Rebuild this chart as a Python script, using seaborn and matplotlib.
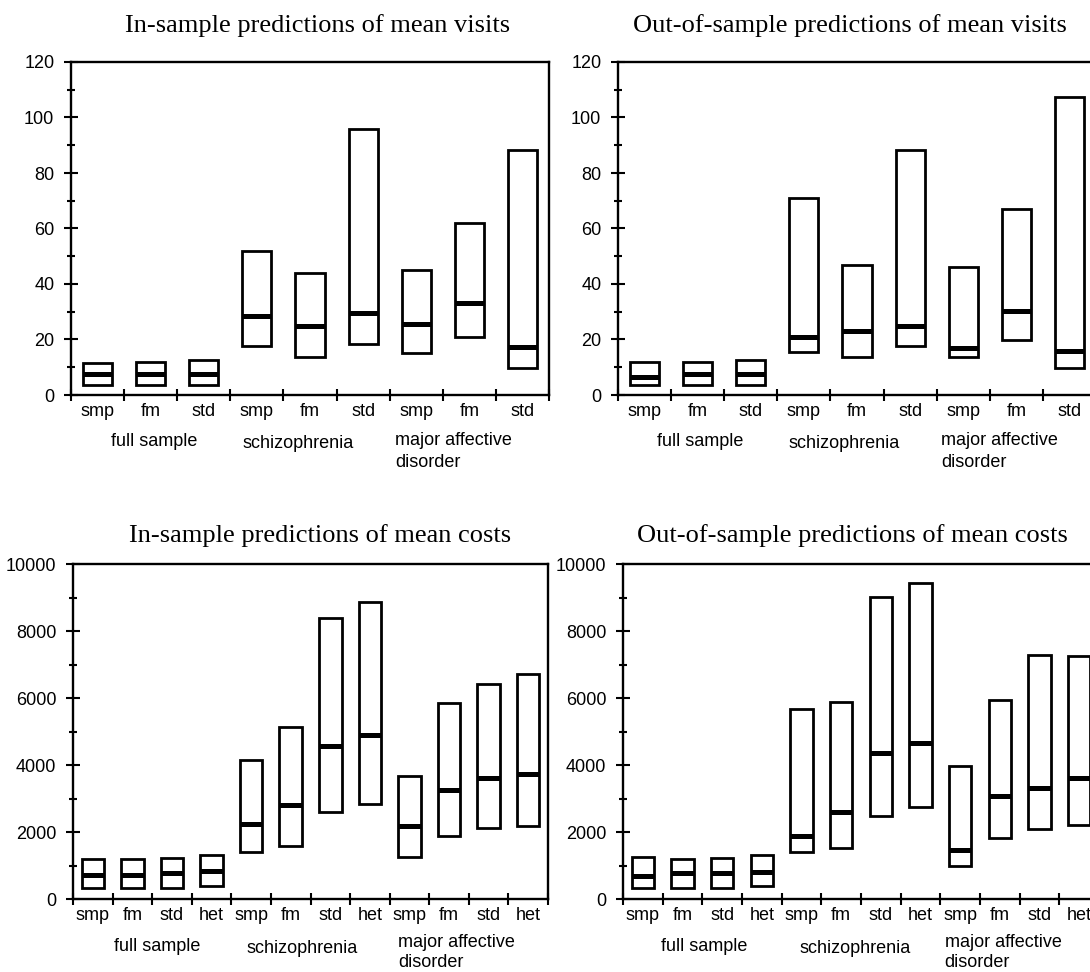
import numpy as np
import pandas as pd
import matplotlib
matplotlib.use("Agg")
import matplotlib.pyplot as plt
import seaborn as sns

# ---------------------------------------------------------------- data
visit_models = ["smp", "fm", "std"]
cost_models = ["smp", "fm", "std", "het"]
groups = ["full sample", "schizophrenia", "major affective\ndisorder"]

# mean visits: lower bound, median, upper bound per group x model
vis_in_low = [3.6, 3.6, 3.6, 17.8, 13.8, 18.4, 15.0, 21.0, 9.6]
vis_in_med = [7.6, 7.6, 7.6, 28.5, 24.9, 29.7, 25.6, 33.3, 17.4]
vis_in_high = [11.7, 12.0, 12.6, 52.0, 43.9, 95.9, 44.9, 62.0, 88.4]

vis_out_low = [3.6, 3.6, 3.6, 15.6, 13.8, 17.8, 13.8, 19.9, 9.6]
vis_out_med = [6.6, 7.6, 7.6, 20.8, 22.9, 24.9, 16.8, 30.4, 16.0]
vis_out_high = [12.0, 12.0, 12.6, 71.0, 46.9, 88.4, 46.3, 67.0, 107.5]

# mean costs: lower bound, median, upper bound per group x model
cost_in_low = [330, 330, 330, 400, 1410, 1590, 2610, 2840, 1250, 1890, 2110, 2170]
cost_in_med = [730, 730, 775, 825, 2250, 2810, 4570, 4900, 2190, 3240, 3610, 3740]
cost_in_high = [1190, 1200, 1220, 1320, 4140, 5130, 8380, 8880, 3680, 5850, 6420, 6710]

cost_out_low = [330, 330, 330, 380, 1410, 1530, 2490, 2760, 1000, 1820, 2090, 2200]
cost_out_med = [680, 775, 775, 805, 1890, 2610, 4370, 4670, 1450, 3080, 3310, 3610]
cost_out_high = [1250, 1200, 1220, 1320, 5670, 5870, 9010, 9420, 3980, 5940, 7270, 7240]

titles = [
    "In-sample predictions of mean visits",
    "Out-of-sample predictions of mean visits",
    "In-sample predictions of mean costs",
    "Out-of-sample predictions of mean costs",
]

# ---------------------------------------------------------------- style
sns.set_theme(style="ticks")
plt.rcParams["font.family"] = ["Liberation Sans", "DejaVu Sans"]
plt.rcParams.update({
    "axes.edgecolor": "black",
    "axes.linewidth": 1.7,
    "xtick.color": "black",
    "ytick.color": "black",
    "text.color": "black",
    "axes.facecolor": "white",
    "figure.facecolor": "white",
})

W, H = 1090, 972
fig = plt.figure(figsize=(W / 100, H / 100), dpi=100)

SANS = 13
SERIF = ["Liberation Serif", "DejaVu Serif"]


def px_axes(left, right, top, bottom):
    return fig.add_axes([left / W, 1 - bottom / H, (right - left) / W, (bottom - top) / H])


def draw_panel(ax, models, low, med, high, ymax, ystep, box_w, label_x, spacing):
    n = len(low)
    slots = np.arange(n)
    span = np.asarray(high) - np.asarray(low)
    df = pd.DataFrame({"slot": slots, "span": span})

    # interval boxes: bar from the lower to the upper bound
    sns.barplot(data=df, x="slot", y="span", order=list(slots), bottom=low,
                width=box_w, color="white", edgecolor="black", linewidth=2.0,
                errorbar=None, ax=ax)
    # median marks
    ax.hlines(med, slots - box_w / 2, slots + box_w / 2, color="black",
              linewidth=3.6, zorder=3)

    ax.set_xlim(-0.5, n - 0.5)
    ax.set_ylim(0, ymax)
    ax.set_xlabel("")
    ax.set_ylabel("")

    # slot separators as ticks, model names centred in the slots
    ax.set_xticks(np.arange(n + 1) - 0.5)
    ax.set_xticklabels([])
    ax.set_xticks(slots, minor=True)
    ax.set_xticklabels(models * 3, minor=True, fontsize=SANS)
    ax.tick_params(axis="x", which="major", direction="inout", length=8, width=1.5)
    ax.tick_params(axis="x", which="minor", length=0, pad=6)

    ax.set_yticks(np.arange(0, ymax + 1, ystep))
    ax.set_yticks(np.arange(0, ymax + 1, ystep // 2), minor=True)
    ax.tick_params(axis="y", which="major", direction="inout", length=10,
                   width=1.5, pad=7, labelsize=SANS)
    ax.tick_params(axis="y", which="minor", direction="inout", length=6, width=1.5)

    for s in ax.spines.values():
        s.set_visible(True)
        s.set_linewidth(1.7)
        s.set_color("black")

    # group names under the model names
    (x0, d0), (x1, d1), (x2, d2) = label_x
    ax.annotate(groups[0], xy=(x0, 0), xycoords=("data", "axes fraction"),
                xytext=(0, -d0), textcoords="offset pixels",
                ha="center", va="baseline", fontsize=SANS)
    ax.annotate(groups[1], xy=(x1, 0), xycoords=("data", "axes fraction"),
                xytext=(0, -d1), textcoords="offset pixels",
                ha="center", va="baseline", fontsize=SANS)
    ax.annotate(groups[2], xy=(x2, 0), xycoords=("data", "axes fraction"),
                xytext=(0, -d2), textcoords="offset pixels",
                ha="left", va="top", multialignment="left",
                linespacing=spacing, fontsize=SANS)


ax1 = px_axes(71, 549, 62, 395)
ax2 = px_axes(618, 1096, 62, 395)
ax3 = px_axes(73, 548, 564, 899)
ax4 = px_axes(623, 1099, 564, 899)

draw_panel(ax1, visit_models, vis_in_low, vis_in_med, vis_in_high, 120, 20, 0.55,
           [(1.06, 51), (3.78, 53), (5.6, 37)], 1.35)
draw_panel(ax2, visit_models, vis_out_low, vis_out_med, vis_out_high, 120, 20, 0.55,
           [(1.05, 51), (3.76, 53), (5.58, 37)], 1.35)
draw_panel(ax3, cost_models, cost_in_low, cost_in_med, cost_in_high, 10000, 2000, 0.57,
           [(1.63, 52), (5.28, 54), (7.71, 35)], 1.2)
draw_panel(ax4, cost_models, cost_out_low, cost_out_med, cost_out_high, 10000, 2000, 0.57,
           [(1.54, 52), (5.35, 54), (7.61, 35)], 1.2)

# panel titles
for (cx, base), t in zip([(318, 32), (850, 32), (320, 542), (852, 542)], titles):
    fig.text(cx / W, 1 - base / H, t, ha="center", va="baseline",
             fontsize=19, family=SERIF)

fig.savefig("out.png", dpi=100)
